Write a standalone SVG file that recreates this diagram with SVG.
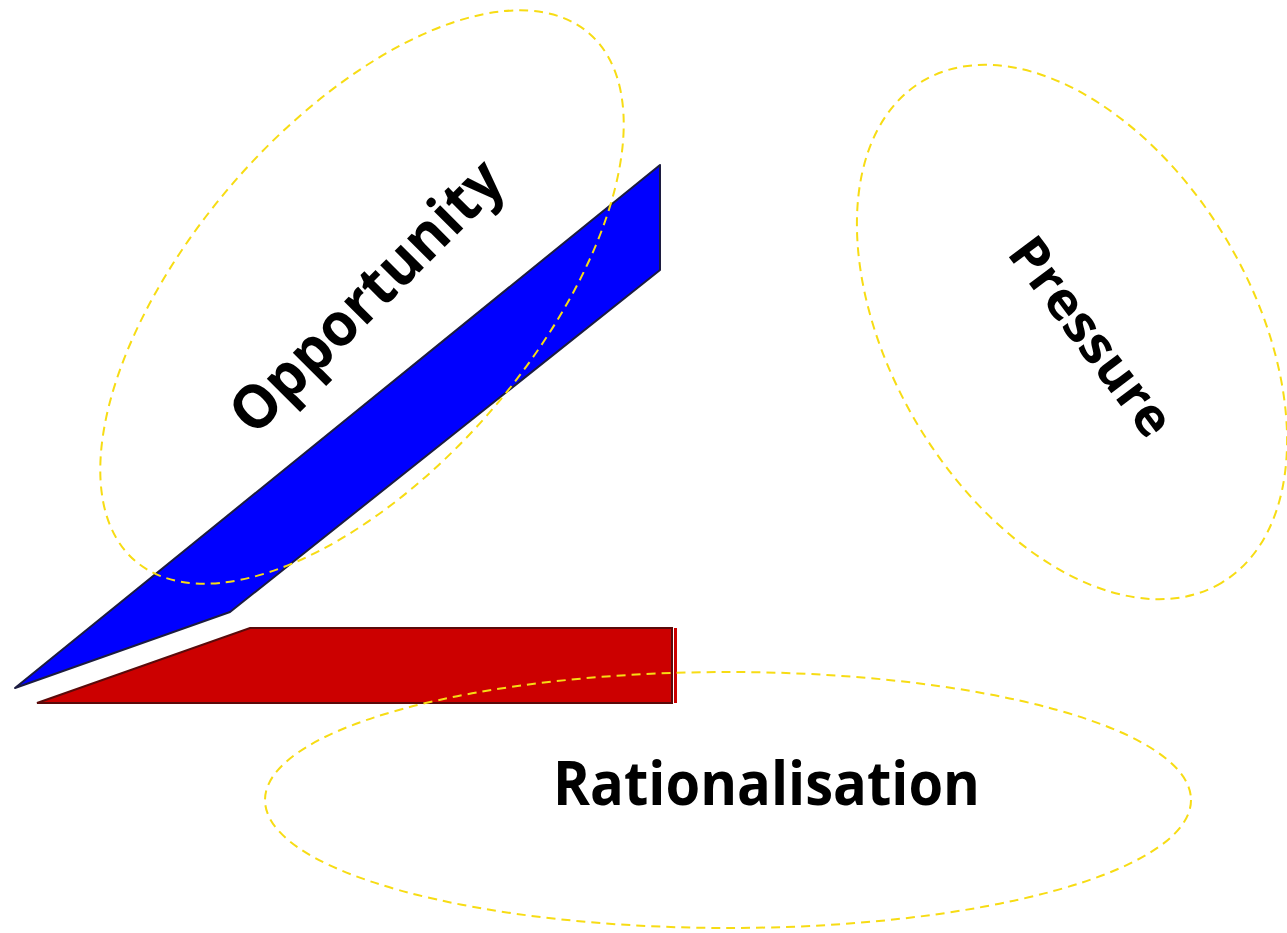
<svg xmlns="http://www.w3.org/2000/svg" width="1287" height="933" viewBox="0 0 1287 933">
<style>
.lbl{font-family:"Open Sans","Liberation Sans",sans-serif;font-weight:700;fill:#000}
.oval{fill:none;stroke:#f7dc14;stroke-width:2;stroke-dasharray:9 6}
</style>
<rect width="1287" height="933" fill="#fff"/>
<g id="shapes">
<polygon id="opportunity-bar" points="15,688 660,165 660,270 230,612" fill="#0000ff" stroke="#1c1c40" stroke-width="2" stroke-linejoin="round"/>
<polygon id="rationalisation-bar" points="37,703 250,628 672,628 672,703" fill="#cc0000" stroke="#5a0a0a" stroke-width="2"/>
<rect x="674" y="628" width="3" height="75" fill="#cc0000"/>
</g>
<g id="connectors"></g>
<g id="node-opportunity">
<ellipse class="oval" cx="362" cy="297" rx="348" ry="172" transform="rotate(-49.3 362 297)"/>
<text class="lbl" font-size="60" text-anchor="middle" textLength="358" lengthAdjust="spacingAndGlyphs" transform="translate(366 296) rotate(-45)" x="0" y="21">Opportunity</text>
</g>
<g id="node-pressure">
<ellipse class="oval" cx="1072" cy="332" rx="292" ry="180" transform="rotate(59.2 1072 332)"/>
<text class="lbl" font-size="52" text-anchor="middle" textLength="235" lengthAdjust="spacingAndGlyphs" transform="translate(1092 336) rotate(53)" x="0" y="19">Pressure</text>
</g>
<g id="node-rationalisation">
<ellipse class="oval" cx="728" cy="800" rx="463" ry="128"/>
<text class="lbl" font-size="60" x="553" y="805" textLength="427" lengthAdjust="spacingAndGlyphs">Rationalisation</text>
</g>
</svg>
